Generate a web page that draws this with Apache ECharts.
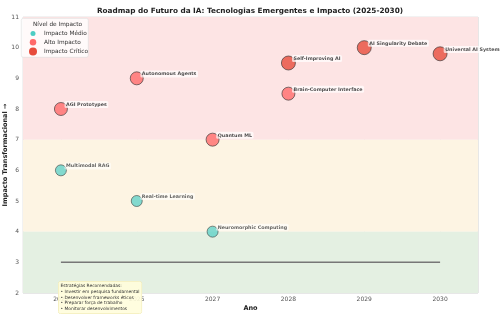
<!DOCTYPE html>
<html>
<head>
<meta charset="utf-8">
<script src="https://cdn.jsdelivr.net/npm/echarts@6/dist/echarts.min.js"></script>
<style>
  html, body { margin: 0; padding: 0; background: #fff; }
  #chart { width: 500px; height: 314px; }
</style>
</head>
<body>
<div id="chart"></div>
<script>
// dados do roadmap
const tecnologias = ['AGI Prototypes', 'Multimodal RAG', 'Autonomous Agents', 'Real-time Learning',
  'Quantum ML', 'Neuromorphic Computing', 'Self-Improving AI', 'Brain-Computer Interface',
  'AI Singularity Debate', 'Universal AI Systems'];
const anoTec = [2025, 2025, 2026, 2026, 2027, 2027, 2028, 2028, 2029, 2030];
const impacto = [8, 6, 9, 5, 7, 4, 9.5, 8.5, 10, 9.8];
const nivel = ['alto', 'medio', 'alto', 'medio', 'alto', 'medio', 'critico', 'alto', 'critico', 'critico'];

// linha do tempo (base)
const linhaX = [2025, 2030];
const linhaY = [3, 3];

// faixas de impacto
const faixaMin = [7, 4, 2];
const faixaMax = [11, 7, 4];

const estrategias = ['Estratégias Recomendadas:', '• Investir em pesquisa fundamental',
  '• Desenvolver frameworks éticos', '• Preparar força de trabalho', '• Monitorar desenvolvimentos'];

const niveis = [
  { key: 'medio', nome: 'Impacto Médio', cor: '#4ecdc4', tam: 11, leg: 5, legY: 34 },
  { key: 'alto', nome: 'Alto Impacto', cor: '#ff6b6b', tam: 13, leg: 6.5, legY: 42.5 },
  { key: 'critico', nome: 'Impacto Crítico', cor: '#e74c3c', tam: 14, leg: 8, legY: 51 }
];
const faixaCores = ['#fde4e4', '#fdf4e3', '#e4f0e2'];

var chart = echarts.init(document.getElementById('chart'));

var series = niveis.map(function (n) {
  var data = [];
  tecnologias.forEach(function (t, i) {
    if (nivel[i] === n.key) data.push({ name: t, value: [anoTec[i], impacto[i]] });
  });
  return {
    name: n.nome,
    type: 'scatter',
    symbolSize: n.tam,
    z: 5,
    itemStyle: { color: n.cor, opacity: n.key === 'medio' ? 0.7 : 0.8, borderColor: '#333', borderWidth: 0.8 },
    label: {
      show: true,
      formatter: '{b}',
      position: [n.tam / 2 + 4, n.tam / 2 - 4],
      align: 'left',
      verticalAlign: 'middle',
      fontFamily: 'DejaVu Sans',
      fontWeight: 'bold',
      fontSize: 4.8,
      color: '#222',
      backgroundColor: 'rgba(255,255,255,0.85)',
      padding: [1, 1.5],
      borderRadius: 1.5
    },
    data: data
  };
});

series.unshift({
  type: 'line',
  symbol: 'none',
  z: 2,
  lineStyle: { color: '#777', width: 1.5 },
  data: linhaX.map(function (x, i) { return [x, linhaY[i]]; }),
  markArea: {
    silent: true,
    data: faixaMin.map(function (v, i) {
      return [{ yAxis: v, itemStyle: { color: faixaCores[i] } }, { yAxis: faixaMax[i] }];
    })
  }
});

var option = {
  animation: false,
  textStyle: { fontFamily: 'DejaVu Sans' },
  title: {
    text: 'Roadmap do Futuro da IA: Tecnologias Emergentes e Impacto (2025-2030)',
    left: 'center',
    top: 3,
    textStyle: { fontSize: 7.3, fontWeight: 'bold', color: '#222', fontFamily: 'DejaVu Sans' }
  },
  grid: {
    left: 23, right: 22, top: 17, bottom: 21, show: true, borderColor: '#ddd', borderWidth: 0.8,
    outerBoundsMode: 'none', containLabel: false
  },
  xAxis: {
    type: 'value',
    min: 2024.5,
    max: 2030.5,
    name: 'Ano',
    nameLocation: 'middle',
    nameGap: 12,
    nameMoveOverlap: false,
    nameTextStyle: { fontSize: 6.5, fontWeight: 'bold', color: '#222' },
    axisLine: { show: false },
    axisTick: { show: false },
    axisLabel: {
      fontSize: 6, color: '#555', margin: 3,
      showMinLabel: false, showMaxLabel: false,
      formatter: function (v) { return Number.isInteger(v) ? String(v) : ''; }
    },
    splitLine: { lineStyle: { color: 'rgba(0,0,0,0.06)', width: 0.8 } }
  },
  yAxis: {
    type: 'value',
    min: 2,
    max: 11,
    interval: 1,
    name: 'Impacto Transformacional →',
    nameLocation: 'middle',
    nameRotate: 90,
    nameGap: 14,
    nameMoveOverlap: false,
    nameTextStyle: { fontSize: 6.5, fontWeight: 'bold', color: '#222' },
    axisLine: { show: false },
    axisTick: { show: false },
    axisLabel: { fontSize: 6, color: '#555', margin: 4 },
    splitLine: { lineStyle: { color: 'rgba(0,0,0,0.06)', width: 0.8 } }
  },
  legend: niveis.map(function (n) {
    return {
      data: [n.nome],
      left: 33 - n.leg / 2,
      top: n.legY - 3.5,
      padding: 0,
      z: 4,
      icon: 'circle',
      itemWidth: n.leg,
      itemHeight: n.leg,
      itemStyle: { color: n.cor, opacity: 1, borderWidth: 0 },
      selectedMode: false,
      textStyle: { fontSize: 5.8, color: '#333', padding: [0, 0, 0, 44 - (33 + n.leg / 2 + 5)] }
    };
  }),
  graphic: [
    {
      type: 'rect', left: 21, top: 18, z: 3,
      shape: { width: 67, height: 39, r: 2 },
      style: { fill: 'rgba(255,255,255,0.8)', stroke: '#ddd', lineWidth: 0.6 }
    },
    {
      type: 'text', left: 33, top: 21, z: 4,
      style: { text: 'Nível de Impacto', fontSize: 5.8, fill: '#333', fontFamily: 'DejaVu Sans' }
    },
    {
      type: 'text', left: 58, top: 281, z: 20,
      style: {
        text: estrategias.join('\n'),
        fontSize: 4.4, lineHeight: 5.8, fill: '#333', fontFamily: 'DejaVu Sans',
        backgroundColor: 'rgba(255,253,220,0.9)', borderColor: '#eee8b0', borderWidth: 0.5,
        borderRadius: 2, padding: [1.5, 2]
      }
    }
  ],
  series: series
};

chart.setOption(option);
</script>
</body>
</html>
